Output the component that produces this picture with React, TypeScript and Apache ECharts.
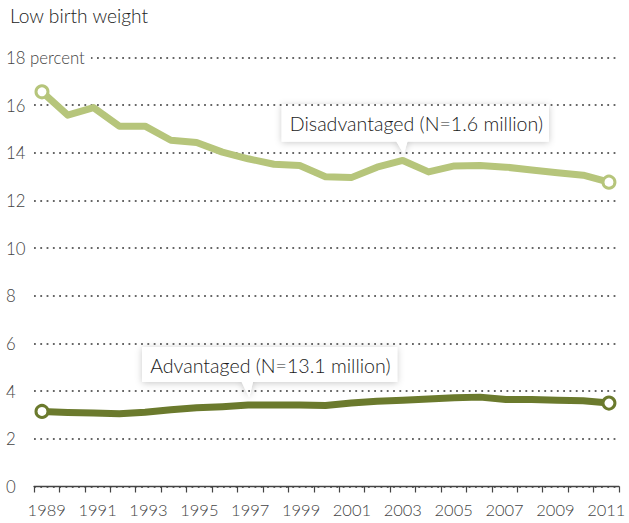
import React, { useEffect, useRef } from "react";
import * as echarts from "echarts";

const years = [
  1989, 1990, 1991, 1992, 1993, 1994, 1995, 1996, 1997, 1998, 1999, 2000,
  2001, 2002, 2003, 2004, 2005, 2006, 2007, 2008, 2009, 2010, 2011,
];
const disadvantaged = [
  16.56, 15.58, 15.9, 15.12, 15.12, 14.53, 14.43, 14.03, 13.75, 13.52, 13.47,
  13.0, 12.96, 13.4, 13.68, 13.2, 13.45, 13.47, 13.4, 13.28, 13.16, 13.06, 12.77,
];
const advantaged = [
  3.15, 3.11, 3.08, 3.05, 3.12, 3.22, 3.3, 3.35, 3.42, 3.42, 3.42, 3.4,
  3.5, 3.58, 3.62, 3.67, 3.72, 3.75, 3.65, 3.65, 3.62, 3.6, 3.5,
];
const yTicks = [0, 2, 4, 6, 8, 10, 12, 14, 16, 18];
const titleText = "Low birth weight";
const disLabel = "Disadvantaged (N=1.6 million)";
const advLabel = "Advantaged (N=13.1 million)";
const disLabelYear = 2003;
const advLabelYear = 1997;

const FONT = "Lato, 'Open Sans', sans-serif";
const DIS_COLOR = "#b6c57b";
const ADV_COLOR = "#6b7a2d";

function seriesData(vals: number[]) {
  return vals.map((v, i) => ({
    value: [years[i], v],
    symbol: i === 0 || i === vals.length - 1 ? "circle" : "none",
  }));
}

function callout(
  tx: number,
  tipY: number,
  boxLeftOffset: number,
  boxW: number,
  boxH: number,
  ptrH: number,
  text: string
) {
  const bottom = tipY - ptrH;
  const top = bottom - boxH;
  const left = tx - boxLeftOffset;
  const shadow = {
    shadowBlur: 7,
    shadowColor: "rgba(0,0,0,0.22)",
    shadowOffsetY: 1,
  };
  const poly = [
    [tx - 7, bottom - 1],
    [tx + 5, bottom - 1],
    [tx + 1, tipY],
  ];
  return {
    type: "group",
    children: [
      { type: "rect", shape: { x: left, y: top, width: boxW, height: boxH }, style: { fill: "#fff", ...shadow } },
      { type: "polygon", shape: { points: poly }, style: { fill: "#fff", ...shadow } },
      { type: "rect", shape: { x: left, y: top, width: boxW, height: boxH }, style: { fill: "#fff" } },
      { type: "polygon", shape: { points: poly }, style: { fill: "#fff" } },
      {
        type: "text",
        x: left + 8,
        y: top + boxH / 2 + 1,
        style: {
          text,
          fill: "#1a1a1a",
          font: `300 19.6px ${FONT}`,
          verticalAlign: "middle",
          align: "left",
        },
      },
    ],
  };
}

export default function App() {
  const ref = useRef<HTMLDivElement>(null);
  useEffect(() => {
    if (!ref.current) return;
    const chart = echarts.init(ref.current, undefined, { renderer: "svg" });
    const option: any = {
      animation: false,
      backgroundColor: "#fff",
      title: {
        text: titleText,
        left: 5,
        top: 1,
        textStyle: { fontFamily: FONT, fontSize: 19.2, fontWeight: 300, color: "#222" },
      },
      grid: { left: 34, right: 10, top: 57.5, bottom: 36.5, containLabel: false },
      xAxis: [
        {
          type: "category",
          data: years.map(String),
          boundaryGap: true,
          axisLine: { show: true, lineStyle: { color: "#444", width: 1.3 } },
          axisTick: { show: true, interval: 0, length: 6, lineStyle: { color: "#444", width: 1.2 } },
          axisLabel: {
            interval: 1,
            margin: 15,
            fontFamily: FONT,
            fontSize: 16.5,
            fontWeight: 300,
            color: "#444",
          },
          splitLine: { show: false },
          z: 5,
        },
        {
          type: "value",
          min: 1988.69,
          max: 2011.39,
          show: false,
          splitLine: { show: false },
        },
      ],
      yAxis: {
        type: "value",
        min: yTicks[0],
        max: yTicks[yTicks.length - 1],
        interval: yTicks[1] - yTicks[0],
        axisLine: { show: false },
        axisTick: { show: false },
        axisLabel: {
          align: "left",
          margin: 28,
          fontFamily: FONT,
          fontSize: 16.8,
          fontWeight: 300,
          color: "#444",
          backgroundColor: "#fff",
          padding: [0, 6, 0, 0],
          formatter: (v: number) => (v === yTicks[yTicks.length - 1] ? `${v} percent` : `${v}`),
        },
        splitLine: {
          show: true,
          lineStyle: { color: "#666", width: 1.8, type: [1.8, 4.5] },
        },
        z: 3,
      },
      series: [
        {
          type: "line",
          name: "Disadvantaged",
          xAxisIndex: 1,
          data: seriesData(disadvantaged),
          showAllSymbol: true,
          symbolSize: 12,
          itemStyle: { color: "#fff", borderColor: DIS_COLOR, borderWidth: 3 },
          lineStyle: { color: DIS_COLOR, width: 7, join: "round", cap: "round" },
          z: 4,
        },
        {
          type: "line",
          name: "Advantaged",
          xAxisIndex: 1,
          data: seriesData(advantaged),
          showAllSymbol: true,
          symbolSize: 12,
          itemStyle: { color: "#fff", borderColor: ADV_COLOR, borderWidth: 3 },
          lineStyle: { color: ADV_COLOR, width: 7, join: "round", cap: "round" },
          z: 4,
        },
      ],
    };
    chart.setOption(option);
    const di = years.indexOf(disLabelYear);
    const ai = years.indexOf(advLabelYear);
    const dp = chart.convertToPixel({ xAxisIndex: 1, yAxisIndex: 0 }, [disLabelYear, disadvantaged[di]]) as number[];
    const ap = chart.convertToPixel({ xAxisIndex: 1, yAxisIndex: 0 }, [advLabelYear, advantaged[ai]]) as number[];
    chart.setOption({
      graphic: [
        callout(dp[0], dp[1] - 7, 121, 267, 37, 12, disLabel),
        callout(ap[0], ap[1] - 8, 106, 255, 35, 15, advLabel),
      ],
    });
    return () => chart.dispose();
  }, []);
  return (
    <div
      ref={ref}
      style={{ position: "fixed", left: 0, top: 0, width: 629, height: 523 }}
    />
  );
}
